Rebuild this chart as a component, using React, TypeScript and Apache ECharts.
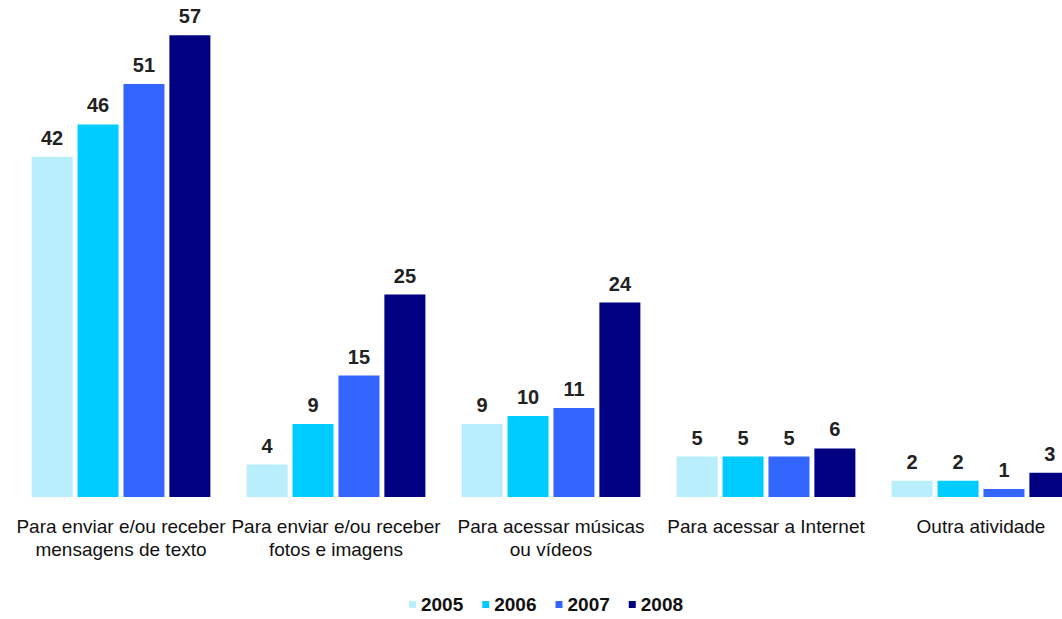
import React, { useEffect, useRef } from "react";
import * as echarts from "echarts";

const categories = [
  "Para enviar e/ou receber\nmensagens de texto",
  "Para enviar e/ou receber\nfotos e imagens",
  "Para acessar músicas\nou vídeos",
  "Para acessar a Internet",
  "Outra atividade",
];
const years = ["2005", "2006", "2007", "2008"];
const values2005 = [42, 4, 9, 5, 2];
const values2006 = [46, 9, 10, 5, 2];
const values2007 = [51, 15, 11, 5, 1];
const values2008 = [57, 25, 24, 6, 3];
const colors = ["#b9eefc", "#00ccff", "#3366ff", "#000080"];

const FONT = "'Liberation Sans', Arial, Helvetica, sans-serif";

export default function App() {
  const ref = useRef<HTMLDivElement>(null);
  useEffect(() => {
    if (!ref.current) return;
    const chart = echarts.init(ref.current, null, { renderer: "svg" });
    const seriesValues = [values2005, values2006, values2007, values2008];
    chart.setOption({
      animation: false,
      backgroundColor: "#ffffff",
      grid: { left: 13.5, top: 11, width: 1075, bottom: 122, containLabel: false },
      legend: {
        bottom: 0,
        left: "center",
        itemWidth: 7,
        itemHeight: 7,
        itemGap: 19,
        icon: "rect",
        textStyle: { fontFamily: FONT, fontSize: 19, fontWeight: "bold", color: "#111" },
        data: years,
      },
      xAxis: {
        type: "category",
        data: categories,
        axisLine: { show: false },
        axisTick: { show: false },
        axisLabel: {
          interval: 0,
          margin: 18,
          fontFamily: FONT,
          fontSize: 19,
          color: "#111",
          lineHeight: 23,
        },
      },
      yAxis: {
        type: "value",
        min: 0,
        max: 60,
        show: false,
        splitLine: { show: false },
      },
      series: years.map((y, i) => ({
        name: y,
        type: "bar",
        data: seriesValues[i],
        barWidth: 41,
        barGap: "12%",
        itemStyle: { color: colors[i] },
        label: {
          show: true,
          position: "top",
          distance: 9,
          fontFamily: FONT,
          fontSize: 20,
          fontWeight: "bold",
          color: "#222",
        },
      })),
    });
    return () => chart.dispose();
  }, []);
  // The chart canvas is a little wider than the visible frame, so the last
  // group is cut off at the right edge.
  return (
    <div
      style={{
        position: "fixed",
        left: 0,
        top: 0,
        width: 1062,
        height: 619,
        overflow: "hidden",
        background: "#fff",
      }}
    >
      <div ref={ref} style={{ width: 1092, height: 619 }} />
    </div>
  );
}
